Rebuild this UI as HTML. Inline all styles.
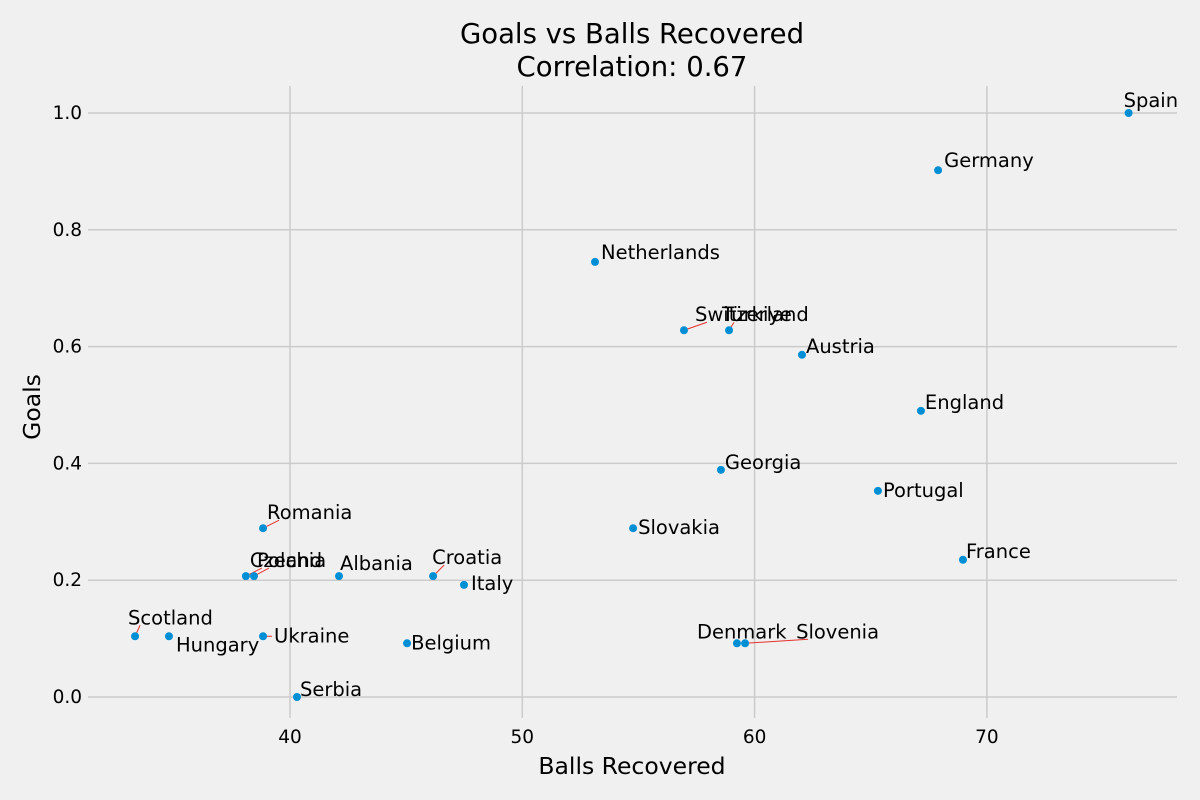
<!DOCTYPE html>
<html><head><meta charset="utf-8">
<style>
html,body{margin:0;padding:0;background:#f0f0f0;}
svg{display:block;font-family:"DejaVu Sans","Liberation Sans",sans-serif;}
</style></head>
<body>
<svg id="chart" width="1200" height="800" viewBox="0 0 1200 800">
<rect x="0" y="0" width="1200" height="800" fill="#f0f0f0"/>
<text x="632" y="43" text-anchor="middle" font-size="27.5" fill="#000">Goals vs Balls Recovered</text>
<text x="632" y="76" text-anchor="middle" font-size="27.5" fill="#000">Correlation: 0.67</text>
<g id="grid"></g>
<g id="ticks"></g>
<g id="lines"></g>
<g id="points"></g>
<g id="labels"></g>
<text x="632" y="774" text-anchor="middle" font-size="23.5" fill="#000">Balls Recovered</text>
<text x="40" y="407" text-anchor="middle" font-size="23.5" fill="#000" transform="rotate(-90 40 407)">Goals</text>
</svg>
<script>
const countries = ["Spain","Germany","Netherlands","Switzerland","Türkiye","Austria","England","Georgia","Portugal","Slovakia","Romania","France","Croatia","Italy","Albania","Poland","Czechia","Scotland","Hungary","Ukraine","Belgium","Denmark","Slovenia","Serbia"];
const ballsRecovered = [76.1,67.9,53.13,56.96,58.9,62.04,67.16,58.55,65.31,54.77,38.84,68.97,46.16,47.49,42.11,38.45,38.1,33.33,34.79,38.84,45.04,59.24,59.59,40.3];
const goals = [1.0,0.902,0.745,0.628,0.628,0.586,0.49,0.389,0.353,0.289,0.289,0.235,0.207,0.192,0.207,0.207,0.207,0.104,0.104,0.104,0.092,0.092,0.092,0.0];
const xTicks = [40,50,60,70];
const yTicks = [0.0,0.2,0.4,0.6,0.8,1.0];
// label offsets in pixels (style), and whether a connector line is drawn
const labelDx = [-5,6,6,11,-7,4,4,4,5,5,4,3,-1,7,1,3,4,-7,7,11,4,-40,51,3];
const labelDy = [-13,-10,-10,-16,-16,-9,-9,-8,-1,-1,-16,-9,-19,-2,-13,-16,-16,-19,8,-1,-1,-12,-12,-8];
const hasLine = [0,0,0,1,1,0,0,0,0,0,1,0,1,0,0,1,1,1,0,1,0,0,1,0];

const L=88,R=1177,T=86,B=718;
const xs = v => 290 + (v-40)*23.23;
const ys = v => 697 - v*584;
const NS="http://www.w3.org/2000/svg";
function mk(tag,attrs,parent){const e=document.createElementNS(NS,tag);for(const k in attrs)e.setAttribute(k,attrs[k]);parent.appendChild(e);return e;}
const grid=document.getElementById('grid'),ticks=document.getElementById('ticks');
xTicks.forEach(t=>{
  const l=mk('line',{x1:xs(t),x2:xs(t),y1:T,y2:B,stroke:'#cbcbcb','stroke-width':1.5},grid);
  
  
  const tx=mk('text',{x:xs(t),y:B+25,'text-anchor':'middle','font-size':18.5,fill:'#000'},ticks);
  tx.textContent=t;
  
  
});
yTicks.forEach(t=>{
  const l=mk('line',{x1:L,x2:R,y1:ys(t),y2:ys(t),stroke:'#cbcbcb','stroke-width':1.5},grid);
  
  
  const tx=mk('text',{x:L-6,y:ys(t)+6,'text-anchor':'end','font-size':18.5,fill:'#000'},ticks);
  tx.textContent=t.toFixed(1);
  
  
});
const pts=document.getElementById('points'),lbs=document.getElementById('labels'),lns=document.getElementById('lines');
countries.forEach((c,i)=>{
  const px=xs(ballsRecovered[i]),py=ys(goals[i]);
  const tx_=px+labelDx[i],ty_=py+labelDy[i];
  if(hasLine[i]){
    let ex,ey;
    if(Math.abs(labelDy[i])<5){ex=tx_-2;ey=py;}
    else{ex=tx_+12;ey=ty_+8;}
    const ln=mk('line',{x1:px,y1:py,x2:ex,y2:ey,stroke:'#e8302a','stroke-width':1},lns);
    
    
  }
  const p=mk('circle',{cx:px,cy:py,r:4,fill:'#008fd5'},pts);
  
  
  const t=mk('text',{x:tx_,y:ty_+7,'font-size':19.5,fill:'#000'},lbs);
  t.textContent=c;
  
  
});
</script>
</body></html>
